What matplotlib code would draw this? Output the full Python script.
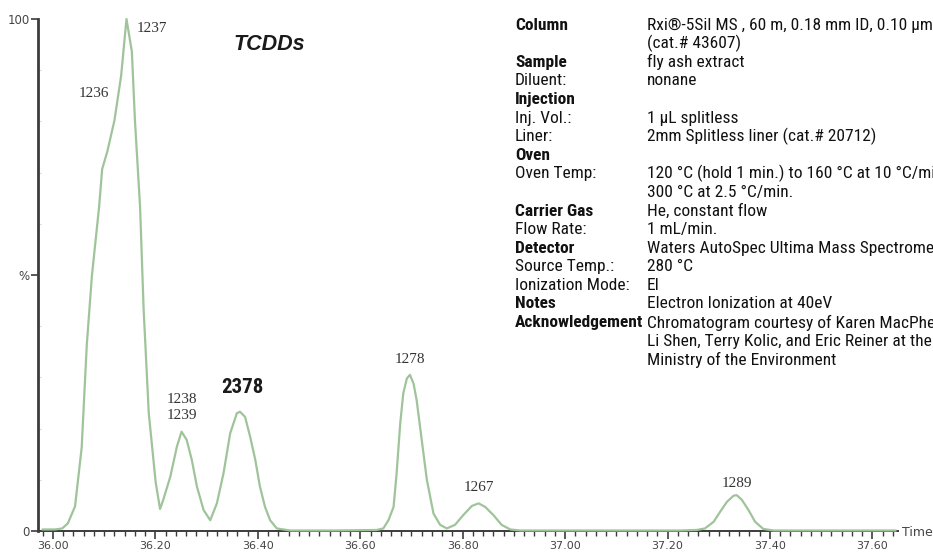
import matplotlib
matplotlib.use("Agg")
import matplotlib.pyplot as plt
from matplotlib import font_manager
from matplotlib.ticker import MultipleLocator, FixedLocator, FixedFormatter

# chromatogram trace: retention time (min) vs relative intensity (%)
times = [35.980, 36.004, 36.018, 36.029, 36.043, 36.056, 36.066, 36.076, 36.090, 36.096,
         36.106, 36.120, 36.133, 36.1435, 36.154, 36.160, 36.170, 36.177, 36.187, 36.2005,
         36.209, 36.215, 36.229, 36.242, 36.251, 36.261, 36.271, 36.281, 36.294, 36.307,
         36.320, 36.333, 36.346, 36.359, 36.365, 36.375, 36.385, 36.395, 36.404, 36.414,
         36.424, 36.437, 36.463, 36.550, 36.632, 36.645, 36.655, 36.665, 36.671, 36.678,
         36.684, 36.691, 36.697, 36.704, 36.710, 36.720, 36.730, 36.743, 36.756, 36.769,
         36.785, 36.801, 36.818, 36.831, 36.844, 36.860, 36.876, 36.893, 36.912, 37.000,
         37.225, 37.257, 37.273, 37.290, 37.303, 37.316, 37.329, 37.335, 37.345, 37.358,
         37.371, 37.387, 37.407, 37.500, 37.645]
intensity = [0.3, 0.3, 0.5, 1.5, 4.8, 16.3, 36.4, 49.9, 63.3, 70.7,
             74.1, 80.2, 88.9, 100.0, 93.6, 80.2, 63.3, 43.2, 23.0, 9.5,
             4.3, 6.0, 10.6, 16.5, 19.4, 17.8, 13.9, 8.7, 4.1, 2.1,
             5.4, 11.3, 19.1, 23.0, 23.3, 22.3, 18.4, 13.9, 8.7, 4.7,
             2.1, 0.5, 0.1, 0.1, 0.2, 0.5, 2.1, 4.7, 11.3, 21.0,
             26.9, 29.8, 30.5, 28.8, 25.6, 17.8, 10.0, 3.4, 1.2, 0.5,
             1.2, 3.1, 4.9, 5.4, 4.7, 3.1, 1.2, 0.3, 0.1, 0.1,
             0.1, 0.2, 0.5, 1.8, 3.8, 5.7, 6.9, 7.0, 6.1, 4.1,
             1.8, 0.4, 0.1, 0.1, 0.1]

# congener labels and where they sit on the trace
peak_names = ["1236", "1237", "1238\n1239", "2378", "1278", "1267", "1289"]
peak_times = [36.096, 36.1435, 36.251, 36.365, 36.697, 36.831, 37.335]
peak_heights = [70.7, 100.0, 19.4, 23.3, 30.5, 5.4, 7.0]
# label offsets in pixels (dx, dy up)
label_offsets = [(-8, 76), (25, -10), (0, 24), (2, 24), (0, 15), (0, 16), (0, 12)]

x_ticks = [36.00, 36.20, 36.40, 36.60, 36.80, 37.00, 37.20, 37.40, 37.60]

info_labels = ["Column", "", "Sample", "Diluent:", "Injection", "Inj. Vol.:", "Liner:", "Oven",
               "Oven Temp:", "", "Carrier Gas", "Flow Rate:", "Detector", "Source Temp.:",
               "Ionization Mode:", "Notes", "Acknowledgement", "", ""]
info_values = ["Rxi\u00ae-5Sil MS , 60 m, 0.18 mm ID, 0.10 \u03bcm",
               "(cat.# 43607)",
               "fly ash extract",
               "nonane",
               "",
               "1 \u03bcL splitless",
               "2mm Splitless liner (cat.# 20712)",
               "",
               "120 \u00b0C (hold 1 min.) to 160 \u00b0C at 10 \u00b0C/min",
               "300 \u00b0C at 2.5 \u00b0C/min.",
               "He, constant flow",
               "1 mL/min.",
               "Waters AutoSpec Ultima Mass Spectrometer",
               "280 \u00b0C",
               "EI",
               "Electron Ionization at 40eV",
               "Chromatogram courtesy of Karen MacPherson,",
               "Li Shen, Terry Kolic, and Eric Reiner at the",
               "Ministry of the Environment"]
bold_rows = {"Column", "Sample", "Injection", "Oven", "Carrier Gas", "Detector", "Notes", "Acknowledgement"}


def pick_narrow():
    fonts = font_manager.fontManager.ttflist
    names = {f.name for f in fonts}
    for fam in ["Liberation Sans Narrow", "Roboto Condensed", "Open Sans Condensed", "Noto Sans Condensed"]:
        if fam in names:
            return dict(family=fam), 12.5
    if any(f.name == "DejaVu Sans" and f.stretch == "condensed" for f in fonts):
        return dict(family="DejaVu Sans", fontstretch="condensed"), 11.0
    return dict(family="Roboto"), 10.5


narrow, info_size = pick_narrow()

W, H = 933, 554
fig = plt.figure(figsize=(W / 100, H / 100), dpi=100)
ax = fig.add_axes([38 / W, 23 / H, 860 / W, 512 / H])
ax.set_xlim(35.9707, 37.650)
ax.set_ylim(0, 100)

ax.plot(times, intensity, color="#9fc49a", lw=1.6, clip_on=False, zorder=3)

axis_col = "#3c3c3c"
for s in ["top", "right"]:
    ax.spines[s].set_visible(False)
ax.spines["left"].set_color(axis_col)
ax.spines["left"].set_linewidth(2.0)
ax.spines["bottom"].set_color(axis_col)
ax.spines["bottom"].set_linewidth(1.4)

ax.xaxis.set_major_locator(FixedLocator(x_ticks))
ax.xaxis.set_major_formatter(FixedFormatter([f"{v:.2f}" for v in x_ticks]))
ax.xaxis.set_minor_locator(MultipleLocator(0.02))
ax.tick_params(axis="x", which="major", direction="out", length=6, width=1.2, color=axis_col,
               labelsize=8, labelcolor="#444444", pad=1)
ax.tick_params(axis="x", which="minor", direction="out", length=3.5, width=1.0, color=axis_col)

ax.yaxis.set_major_locator(FixedLocator([0, 50, 100]))
ax.yaxis.set_major_formatter(FixedFormatter(["0", "%", "100"]))
ax.yaxis.set_minor_locator(MultipleLocator(10))
ax.tick_params(axis="y", which="major", direction="out", length=5, width=1.2, color=axis_col,
               labelsize=8.5, labelcolor="#444444", pad=1)
ax.tick_params(axis="y", which="minor", direction="in", length=2, width=0.8, color="#d8d8d8")

fig.text(902 / W, 1 - 533 / H, "Time", ha="left", va="center", fontsize=9, color="#444444")

serif = ["Liberation Serif", "DejaVu Serif"]
for name, t, h, (dx, dy) in zip(peak_names, peak_times, peak_heights, label_offsets):
    if name == "2378":
        style = dict(fontsize=15, fontweight="bold", color="#1a1a1a", **narrow)
    else:
        style = dict(fontsize=11, color="#333333", family=serif)
    ax.annotate(name, xy=(t, h), xytext=(dx * 0.72, dy * 0.72), textcoords="offset points",
                ha="center", va="center", linespacing=1.25, **style)

fig.text(233 / W, 1 - 45 / H, "TCDDs", ha="left", va="center", fontsize=15.5,
         fontweight="bold", fontstyle="italic", color="#1a1a1a",
         family=["Liberation Sans", "DejaVu Sans"])

for i, (lab, val) in enumerate(zip(info_labels, info_values)):
    y = 1 - (25 + i * 18.6) / H
    if lab:
        fig.text(515 / W, y, lab, ha="left", va="center", fontsize=info_size, color="#111111",
                 fontweight="bold" if lab in bold_rows else "normal", **narrow)
    if val:
        fig.text(647 / W, y, val, ha="left", va="center", fontsize=info_size, color="#111111",
                 **narrow)

fig.savefig("out.png", dpi=100)
